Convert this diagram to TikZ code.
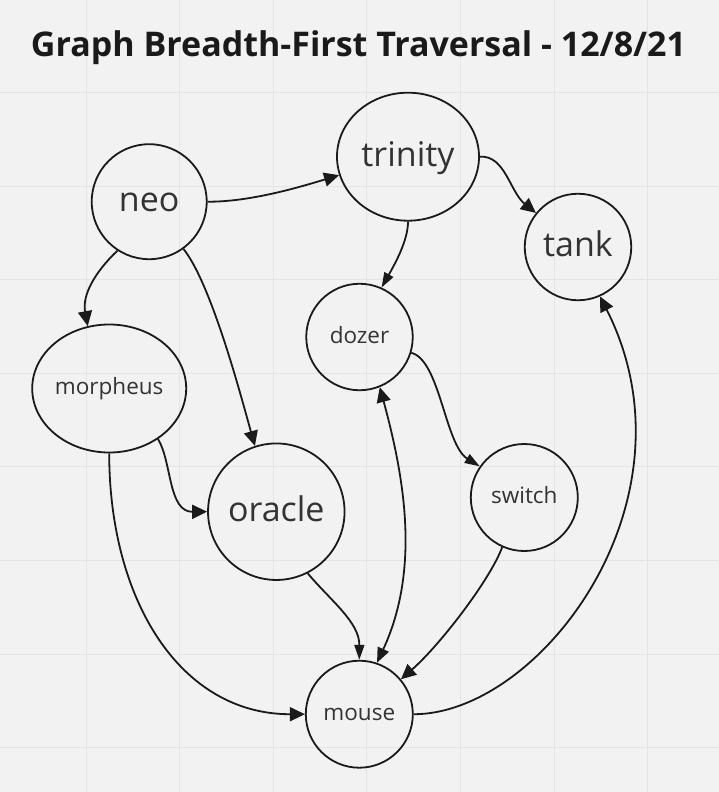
\documentclass[tikz,border=0pt]{standalone}
\usepackage{fontspec}
\setmainfont{Open Sans}
\usetikzlibrary{shapes.geometric,arrows.meta}
\definecolor{bgc}{HTML}{F2F2F2}
\definecolor{gridc}{HTML}{E4E4E4}
\definecolor{inkc}{HTML}{1A1A1A}
\definecolor{txtc}{HTML}{333333}
\tikzset{
  gnode/.style={draw=inkc, line width=1.8pt, inner sep=0pt, text=txtc},
  cnode/.style={gnode, circle},
  enode/.style={gnode, ellipse},
  bigtxt/.style={font=\fontsize{34}{40}\selectfont, text height=26pt, text depth=7pt},
  smalltxt/.style={font=\fontsize{22.5}{27}\selectfont, text height=17pt, text depth=4.5pt},
  arr/.style={draw=inkc, line width=1.8pt, -{Triangle[length=15pt,width=14pt]}},
  arrn/.style={draw=inkc, line width=1.8pt, -{Triangle[length=15pt,width=10pt]}},
  arrb/.style={draw=inkc, line width=1.8pt, {Triangle[length=15pt,width=14pt]}-{Triangle[length=15pt,width=12pt]}},
  gridline/.style={draw=gridc, line width=1pt}
}
\begin{document}
\begin{tikzpicture}[x=1pt,y=-1pt]
\useasboundingbox (0,0) rectangle (719,792);
\fill[bgc] (0,0) rectangle (719,792);
\foreach \gx in {86,179.6,273.2,366.8,460.4,554,647.6}
  \draw[gridline] (\gx,0) -- (\gx,792);
\foreach \gy in {92.4,186,279.6,373.2,466.8,560.4,654,747.6}
  \draw[gridline] (0,\gy) -- (719,\gy);

\node[font=\fontsize{34}{40}\selectfont\bfseries, text=inkc, anchor=base] (title) at (358.5,56.7) {Graph Breadth-First Traversal - 12/8/21};

\node[cnode, bigtxt, minimum size=115pt] (neo) at (149.2,201.7) {neo};
\node[enode, bigtxt, minimum width=142pt, minimum height=128pt] (trinity) at (408,156.7) {trinity};
\node[cnode, bigtxt, minimum size=106.5pt] (tank) at (578,247) {tank};
\node[cnode, smalltxt, minimum size=106.5pt] (dozer) at (359.5,337) {dozer};
\node[enode, smalltxt, minimum width=154pt, minimum height=128pt] (morpheus) at (109.2,388.5) {morpheus};
\node[cnode, bigtxt, minimum size=136.5pt] (oracle) at (276.3,511.7) {oracle};
\node[cnode, smalltxt, minimum size=107pt] (switch) at (524.3,497.5) {switch};
\node[cnode, smalltxt, minimum size=107pt] (mouse) at (359.3,714.2) {mouse};

\draw[arr] (neo.0) .. controls (250,202) and (300,187) .. (trinity.195.5);
\draw[arr] (trinity.0) .. controls (505,155) and (510,192) .. (tank.141.4);
\draw[arrn] (trinity.-90) .. controls (408,240) and (396,262) .. (dozer.66.2);
\draw[arrn] (dozer.-17.3) .. controls (440,360) and (445,445) .. (switch.145.6);
\draw[arrb] (dozer.-68.9) .. controls (405,480) and (420,570) .. (mouse.71.3);
\draw[arrn] (oracle.-63.3) .. controls (330,600) and (359.5,622) .. (mouse.90);
\draw[arr] (switch.-114.2) .. controls (490,580) and (440,645) .. (mouse.40.9);
\draw[arr] (mouse.0) .. controls (540,714.3) and (703,500) .. (tank.-66.4);
\draw[arr] (neo.-123.6) .. controls (95,272) and (82,295) .. (morpheus.109.3);
\draw[arr] (neo.-54.2) .. controls (212,285) and (242,400) .. (oracle.108.1);
\draw[arr] (morpheus.-46.4) .. controls (172,462) and (168,512) .. (oracle.180);
\draw[arr] (morpheus.-90) .. controls (109.3,600) and (180,714.3) .. (mouse.180);
\end{tikzpicture}
\end{document}
